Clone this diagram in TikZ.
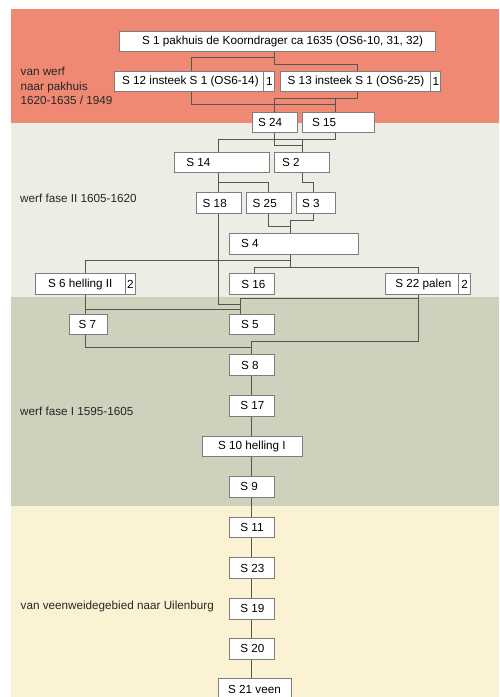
\documentclass[tikz,border=0pt]{standalone}
\usepackage{fontspec}
\setmainfont{Liberation Sans}
\definecolor{bandred}{RGB}{239,137,115}
\definecolor{bandgrey}{RGB}{237,237,230}
\definecolor{bandolive}{RGB}{206,210,188}
\definecolor{bandyellow}{RGB}{251,242,212}
\definecolor{boxgray}{RGB}{125,125,125}
\definecolor{linegray}{RGB}{85,85,85}
\newcommand{\hmfont}{\fontsize{11.7}{14.5}\selectfont}
\tikzset{
  box/.style={draw=boxgray, fill=white, line width=0.8pt, inner sep=0pt, font=\hmfont},
  conn/.style={draw=linegray, line width=0.8pt},
  lbl/.style={anchor=west, inner sep=0pt, font=\hmfont, align=left, text=black!85}
}
% name, x1, y1, x2, y2, text-x, text
\newcommand{\hmnode}[7]{%
  \pgfmathsetlengthmacro{\hmw}{(#4-#2)*1pt}%
  \pgfmathsetlengthmacro{\hmh}{(#5-#3)*1pt}%
  \pgfmathsetlengthmacro{\hmp}{(#6-#2)*1pt}%
  \node[box, anchor=north west, minimum width=\hmw, minimum height=\hmh] (#1) at (#2,#3)
    {\makebox[\hmw][l]{\hspace*{\hmp}#7}};%
}
\begin{document}
\begin{tikzpicture}[x=1pt,y=-1pt]
\useasboundingbox (0,0) rectangle (499,697);
\clip (0,0) rectangle (499,697);
% bands
\fill[bandred] (11,9) rectangle (499,123);
\fill[bandgrey] (11,123) rectangle (499,297);
\fill[bandolive] (11,297) rectangle (499,506);
\fill[bandyellow] (11,506) rectangle (499,697);
% labels
\node[lbl] (lab1) at (20.5,86) {van werf\\naar pakhuis\\1620-1635 / 1949};
\node[lbl] (lab2) at (20,198) {werf fase II 1605-1620};
\node[lbl] (lab3) at (20,411) {werf fase I 1595-1605};
\node[lbl] (lab4) at (20.5,606) {van veenweidegebied naar Uilenburg};
% nodes
\hmnode{s1}{119}{31}{435}{51}{141.7}{S 1 pakhuis de Koorndrager ca 1635 (OS6-10, 31, 32)}
\hmnode{s12}{114}{71}{263}{91}{121.7}{S 12 insteek S 1 (OS6-14)}
\hmnode{s12n}{263}{71}{274}{91}{265.8}{1}
\hmnode{s13}{280}{71}{430}{91}{287.3}{S 13 insteek S 1 (OS6-25)}
\hmnode{s13n}{430}{71}{440}{91}{432.3}{1}
\hmnode{s24}{252}{112}{296.5}{132}{257.7}{S 24}
\hmnode{s15}{301.7}{112}{374}{132}{311.7}{S 15}
\hmnode{s14}{174}{152}{268.7}{172.3}{186}{S 14}
\hmnode{s2}{274}{152}{329.3}{172.3}{281.7}{S 2}
\hmnode{s18}{196}{192.3}{241}{213.3}{202.3}{S 18}
\hmnode{s25}{246.3}{192.3}{290.7}{213.3}{252.3}{S 25}
\hmnode{s3}{296}{192.3}{335.3}{213.3}{301.7}{S 3}
\hmnode{s4}{229.3}{232.7}{357.7}{253.7}{240.7}{S 4}
\hmnode{s6}{35.3}{273.3}{124.7}{294}{47.7}{S 6 helling II}
\hmnode{s6n}{124.7}{273.3}{134.7}{294}{126.8}{2}
\hmnode{s16}{229.3}{273.3}{274.3}{294}{241}{S 16}
\hmnode{s22}{385}{273.3}{458.3}{294}{395}{S 22 palen}
\hmnode{s22n}{458.3}{273.3}{470}{294}{461}{2}
\hmnode{s7}{69}{314.3}{107.3}{334.3}{78.3}{S 7}
\hmnode{s5}{229.3}{314.3}{274.3}{334.3}{240.7}{S 5}
\hmnode{s8}{229.3}{354.3}{274.3}{375}{240.7}{S 8}
\hmnode{s17}{229.3}{395}{274.3}{415.7}{240}{S 17}
\hmnode{s10}{201.7}{435.7}{302}{456.3}{217.7}{S 10 helling I}
\hmnode{s9}{229.3}{476.3}{274.3}{496.7}{240}{S 9}
\hmnode{s11}{229.3}{516.7}{274.3}{537.3}{240}{S 11}
\hmnode{s23}{229.3}{557.3}{274.3}{578}{240}{S 23}
\hmnode{s19}{229.3}{597.7}{274.3}{618.7}{240}{S 19}
\hmnode{s20}{229.3}{638}{274.3}{658.7}{240}{S 20}
\hmnode{s21}{218.3}{678.3}{291}{699}{227.7}{S 21 veen}
% connectors
\draw[conn] (s1.south -| 274.5,0) |- (191,57.7) -- (s12.north -| 191,0);
\draw[conn] (s1.south -| 274.5,0) |- (357.3,64.3) -- (s13.north -| 357.3,0);
\draw[conn] (s12.south -| 191,0) |- (274.5,104.3) -- (s24.north -| 274.5,0);
\draw[conn] (s12.south -| 191,0) |- (335,104.3) -- (s15.north -| 335,0);
\draw[conn] (s13.south -| 357.3,0) |- (274.5,98) -- (s24.north -| 274.5,0);
\draw[conn] (s13.south -| 357.3,0) |- (335,98) -- (s15.north -| 335,0);
\draw[conn] (s15.south -| 335,0) |- (218.3,139) -- (s14.north -| 218.3,0);
\draw[conn] (s15.south -| 335,0) |- (302.3,139) -- (s2.north -| 302.3,0);
\draw[conn] (s24.south -| 274.5,0) |- (302.3,145) -- (s2.north -| 302.3,0);
\draw[conn] (s14.south -| 218.3,0) -- (s18.north -| 218.3,0);
\draw[conn] (s14.south -| 218.3,0) |- (268.3,182.3) -- (s25.north -| 268.3,0);
\draw[conn] (s2.south -| 302.3,0) |- (313,182.3) -- (s3.north -| 313,0);
\draw[conn] (s25.south -| 268.3,0) |- (290.7,226) -- (s4.north -| 290.7,0);
\draw[conn] (s3.south -| 313,0) |- (290.7,220) -- (s4.north -| 290.7,0);
\draw[conn] (s18.south -| 218.3,0) |- (240.7,304) -- (s5.north -| 240.7,0);
\draw[conn] (s4.south -| 290.7,0) |- (85.7,260) -- (s6.north -| 85.7,0);
\draw[conn] (s4.south -| 290.7,0) |- (254,267) -- (s16.north -| 254,0);
\draw[conn] (s4.south -| 290.7,0) |- (418.3,267) -- (s22.north -| 418.3,0);
\draw[conn] (s6.south -| 85.7,0) -- (s7.north -| 85.7,0);
\draw[conn] (s6.south -| 85.7,0) |- (240.7,309.3) -- (s5.north -| 240.7,0);
\draw[conn] (s22.south -| 418.3,0) |- (240.7,298.3) -- (s5.north -| 240.7,0);
\draw[conn] (s22.south -| 418.3,0) |- (251.7,341.7) -- (s8.north -| 251.7,0);
\draw[conn] (s7.south -| 85.7,0) |- (251.7,347.3) -- (s8.north -| 251.7,0);
\draw[conn] (s8.south -| 251.7,0) -- (s17.north -| 251.7,0);
\draw[conn] (s17.south -| 251.7,0) -- (s10.north -| 251.7,0);
\draw[conn] (s10.south -| 251.7,0) -- (s9.north -| 251.7,0);
\draw[conn] (s9.south -| 251.7,0) -- (s11.north -| 251.7,0);
\draw[conn] (s11.south -| 251.7,0) -- (s23.north -| 251.7,0);
\draw[conn] (s23.south -| 251.7,0) -- (s19.north -| 251.7,0);
\draw[conn] (s19.south -| 251.7,0) -- (s20.north -| 251.7,0);
\draw[conn] (s20.south -| 251.7,0) -- (s21.north -| 251.7,0);
\end{tikzpicture}
\end{document}
